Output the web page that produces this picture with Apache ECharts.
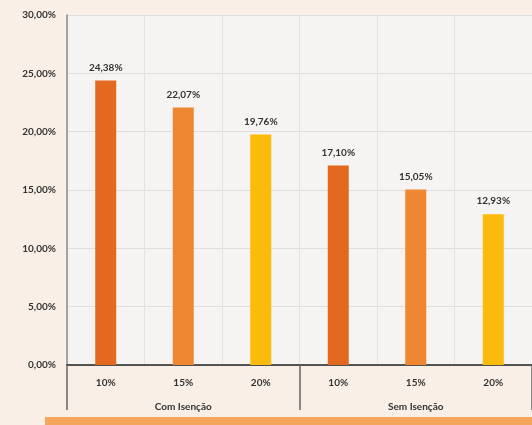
<!DOCTYPE html>
<html>
<head>
<meta charset="utf-8">
<script src="https://cdn.jsdelivr.net/npm/echarts@6/dist/echarts.min.js"></script>
<style>
html, body { margin: 0; padding: 0; background: #f9efe7; }
#chart { width: 532px; height: 425px; }
</style>
</head>
<body>
<div id="chart"></div>
<script>
var categories = ['10%', '15%', '20%', '10%', '15%', '20%'];
var groups = ['Com Isenção', 'Sem Isenção'];
var values = [24.38, 22.07, 19.76, 17.10, 15.05, 12.93];
var barColors = ['#e2691f', '#ef8632', '#fbbb0c', '#e2691f', '#ef8632', '#fbbb0c'];

var dom = document.getElementById('chart');
var myChart = echarts.init(dom);

function pct(v) {
	return v.toFixed(2).replace('.', ',') + '%';
}

var option = {
	backgroundColor: '#f9efe7',
	textStyle: {
		fontFamily: 'Lato',
		color: '#333'
	},
	grid: {
		left: 67,
		right: 0,
		top: 15,
		bottom: 60,
		show: true,
		backgroundColor: '#f6f4f3',
		borderWidth: 0
	},
	xAxis: [{
		type: 'category',
		data: categories,
		axisLine: { lineStyle: { color: '#222', width: 1.5 } },
		axisTick: { show: false },
		axisLabel: { fontSize: 10, fontWeight: 'bold', color: '#333', margin: 13 },
		splitLine: { show: true, lineStyle: { color: '#e4e4e4' } }
	}, {
		type: 'category',
		data: groups,
		position: 'bottom',
		axisLine: { show: false },
		axisTick: { show: true, length: 45, lineStyle: { color: '#666', width: 1.5 } },
		axisLabel: { fontSize: 10, fontWeight: 'bold', color: '#333', margin: 37 },
		splitLine: { show: false }
	}],
	yAxis: {
		type: 'value',
		min: 0,
		max: 30,
		interval: 5,
		axisLine: { show: true, lineStyle: { color: '#8a8a8a', width: 1.5 } },
		axisTick: { show: false },
		axisLabel: {
			fontSize: 10,
			fontWeight: 'bold',
			color: '#333',
			margin: 11,
			formatter: pct
		},
		splitLine: { lineStyle: { color: '#dedede' } }
	},
	graphic: [{
		type: 'rect',
		shape: { x: 45, y: 417, width: 487, height: 8 },
		style: { fill: '#f6a65c' }
	}],
	series: [{
		type: 'bar',
		xAxisIndex: 0,
		barWidth: 21,
		data: values,
		itemStyle: {
			color: function (params) {
				return barColors[params.dataIndex];
			}
		},
		label: {
			show: true,
			position: 'top',
			distance: 8,
			fontSize: 10,
			fontWeight: 'bold',
			color: '#333',
			formatter: function (p) { return pct(p.value); }
		}
	}]
};
myChart.setOption(option);
</script>
</body>
</html>
